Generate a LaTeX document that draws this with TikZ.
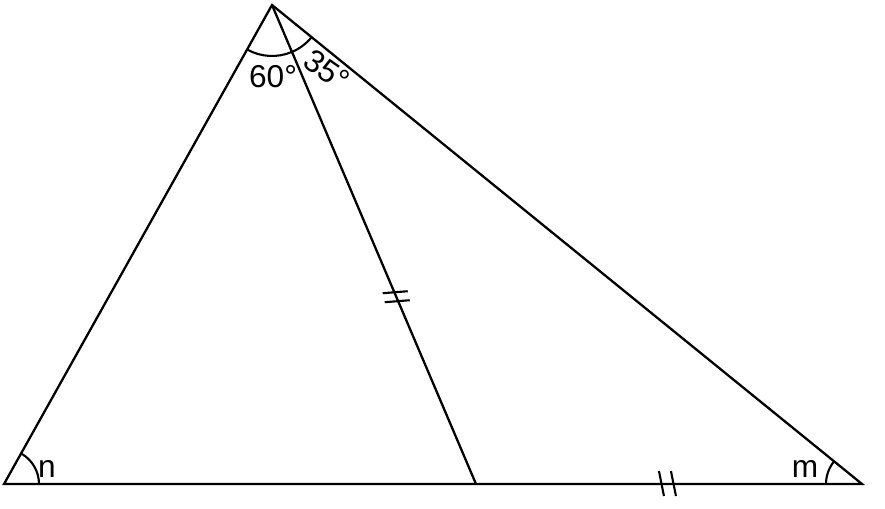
\documentclass[tikz,border=0pt]{standalone}
\usepackage{fontspec}
\setmainfont{Liberation Sans}
\usepackage{tikz}
\usetikzlibrary{calc}
\usetikzlibrary{angles}
\newcommand{\ArcTop}{1.02cm}
\newcommand{\ArcBase}{0.72cm}
\tikzset{
  edge/.style={black, line width=1.3pt},
  tick/.style={black, line width=1.2pt},
  arcmark/.style={draw, black, line width=1.2pt},
  lbl/.style={inner sep=0pt, font=\fontsize{18}{20}\selectfont}
}

\begin{document}
\begin{tikzpicture}[x=0.02cm, y=-0.02cm]
\useasboundingbox (0,0) rectangle (885,508);
\coordinate (A) at (272,5);
\coordinate (B) at (4,484);
\coordinate (C) at (862,484);
\coordinate (D) at (476,484);

\draw[edge, line join=miter] (B) -- (A) -- (C) -- cycle;% Triangle
\draw[edge] (A) -- (D);% Cevian

\pic[arcmark, angle radius=\ArcTop] {angle = B--A--D};
\pic[arcmark, angle radius=\ArcTop] {angle = D--A--C};
\pic[arcmark, angle radius=0.70cm] {angle = D--B--A};
\pic[arcmark, angle radius=\ArcBase] {angle = A--C--B};

\node[lbl] (tA) at (273,77) {60°};
\node[lbl, rotate=-35] (tB) at (327,70) {35°};
\node[lbl] (tn) at (47,469) {n};
\node[lbl] (tm) at (805,469) {m};

% equal marks
\coordinate (T1) at ($(A)!0.609!(D)$);
\draw[tick] ($(T1)+(-13.5,-3.5)$) -- ($(T1)+(11.5,-5.5)$);
\draw[tick] ($(T1)+(-11.5,5.5)$) -- ($(T1)+(13.5,3.5)$);
\coordinate (T2) at ($(D)!0.496!(C)$);
\draw[tick] ($(T2)+(-8.5,-13)$) -- ($(T2)+(-3.5,12)$);
\draw[tick] ($(T2)+(3.5,-13)$) -- ($(T2)+(8.5,12)$);
\end{tikzpicture}
\end{document}
